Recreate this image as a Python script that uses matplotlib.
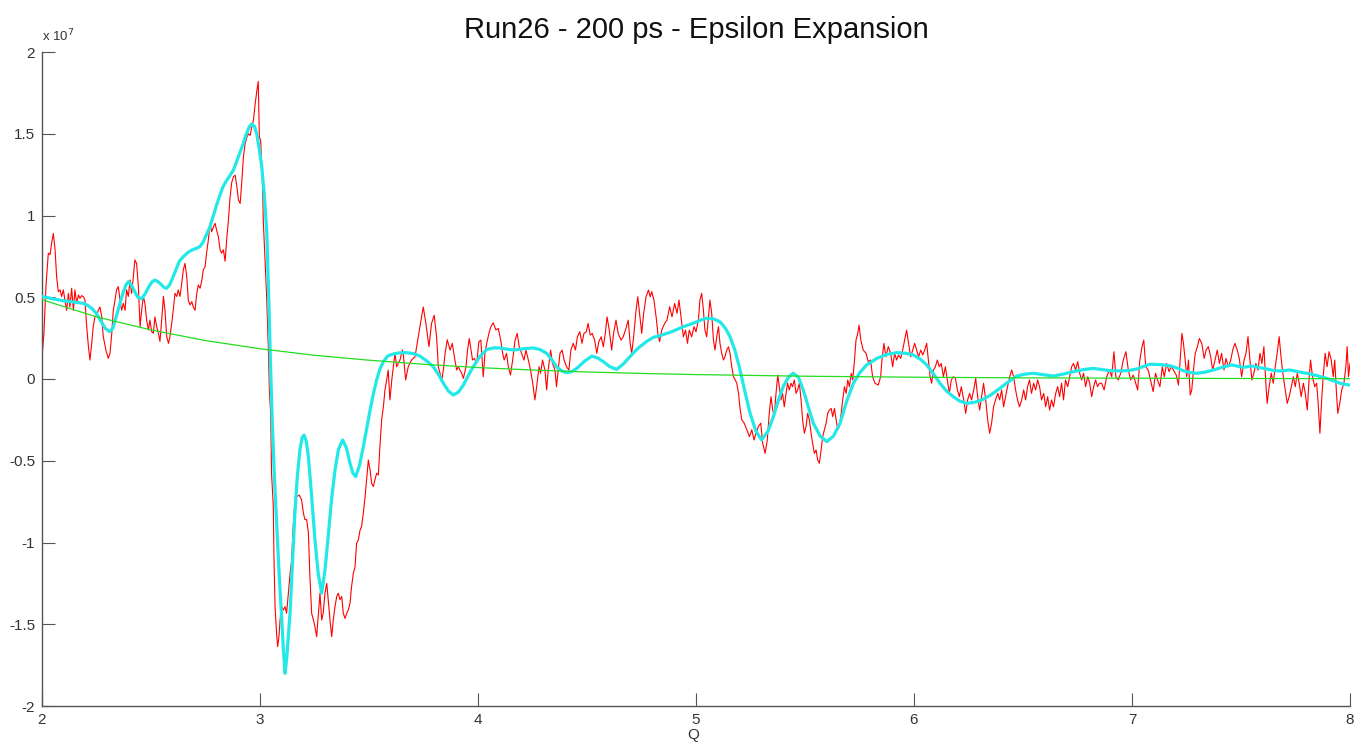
import matplotlib
matplotlib.use("Agg")
import matplotlib.pyplot as plt

plt.rcParams['font.family'] = ['Liberation Sans', 'DejaVu Sans']

# ---------------- data (y values in units of 1e7) ----------------
red_q = [
    2.000, 2.009, 2.018, 2.029, 2.037, 2.044, 2.052, 2.060, 2.067, 2.075, 2.083, 2.090, 2.098, 2.105,
    2.113, 2.121, 2.128, 2.136, 2.144, 2.151, 2.159, 2.167, 2.174, 2.182, 2.190, 2.197, 2.205, 2.213,
    2.220, 2.228, 2.235, 2.243, 2.251, 2.258, 2.266, 2.274, 2.281, 2.293, 2.304, 2.312, 2.320, 2.327,
    2.335, 2.342, 2.350, 2.358, 2.365, 2.373, 2.381, 2.388, 2.396, 2.404, 2.411, 2.419, 2.426, 2.434,
    2.442, 2.450, 2.457, 2.465, 2.472, 2.480, 2.488, 2.495, 2.503, 2.511, 2.518, 2.526, 2.534, 2.541,
    2.549, 2.557, 2.564, 2.572, 2.580, 2.587, 2.595, 2.602, 2.610, 2.618, 2.625, 2.633, 2.641, 2.648,
    2.656, 2.664, 2.671, 2.679, 2.687, 2.694, 2.702, 2.709, 2.717, 2.725, 2.732, 2.740, 2.748, 2.755,
    2.763, 2.771, 2.778, 2.786, 2.794, 2.801, 2.809, 2.817, 2.824, 2.832, 2.840, 2.847, 2.855, 2.862,
    2.870, 2.878, 2.886, 2.894, 2.901, 2.909, 2.917, 2.924, 2.932, 2.940, 2.947, 2.955, 2.962, 2.970,
    2.978, 2.986, 2.992, 2.997, 3.003, 3.008, 3.012, 3.015, 3.023, 3.030, 3.038, 3.043, 3.049, 3.053,
    3.061, 3.064, 3.069, 3.076, 3.081, 3.087, 3.092, 3.099, 3.107, 3.115, 3.122, 3.130, 3.138, 3.145,
    3.153, 3.161, 3.168, 3.180, 3.191, 3.199, 3.206, 3.214, 3.222, 3.229, 3.237, 3.245, 3.252, 3.260,
    3.268, 3.275, 3.283, 3.290, 3.298, 3.306, 3.313, 3.321, 3.329, 3.336, 3.344, 3.352, 3.359, 3.367,
    3.375, 3.382, 3.390, 3.398, 3.405, 3.413, 3.420, 3.428, 3.436, 3.443, 3.451, 3.459, 3.466, 3.474,
    3.482, 3.489, 3.497, 3.505, 3.512, 3.520, 3.527, 3.535, 3.543, 3.550, 3.558, 3.566, 3.573, 3.581,
    3.588, 3.596, 3.605, 3.619, 3.627, 3.642, 3.653, 3.657, 3.668, 3.680, 3.695, 3.711, 3.726, 3.741,
    3.749, 3.761, 3.775, 3.787, 3.799, 3.810, 3.818, 3.834, 3.841,
    3.849, 3.859, 3.872, 3.882, 3.894, 3.902, 3.910, 3.917, 3.925, 3.933, 3.945, 3.952, 3.960, 3.968,
    3.975, 3.983, 3.994, 4.004, 4.013, 4.024, 4.032, 4.040, 4.050, 4.059, 4.070, 4.082, 4.093, 4.104,
    4.113, 4.120, 4.131, 4.139, 4.149, 4.159, 4.170, 4.180, 4.189, 4.200, 4.211, 4.220, 4.231, 4.241,
    4.251, 4.261, 4.269, 4.280, 4.287, 4.296, 4.307, 4.315, 4.322, 4.333, 4.342, 4.353, 4.360, 4.368,
    4.376, 4.386, 4.395, 4.406, 4.417, 4.426, 4.437, 4.447, 4.456, 4.467, 4.477, 4.486, 4.497, 4.505,
    4.515, 4.524, 4.535, 4.545, 4.554, 4.565, 4.575, 4.584, 4.592, 4.602, 4.613, 4.622, 4.633, 4.643,
    4.656, 4.666, 4.679, 4.689, 4.698, 4.705, 4.714, 4.725, 4.733, 4.743, 4.751, 4.760, 4.771, 4.782,
    4.790, 4.797, 4.807, 4.817, 4.825, 4.833, 4.843, 4.856, 4.867, 4.879, 4.890, 4.902, 4.913, 4.922,
    4.931, 4.942, 4.952, 4.961, 4.969, 4.980, 4.991, 5.000, 5.011, 5.018, 5.026, 5.034, 5.041, 5.049,
    5.057, 5.064, 5.072, 5.080, 5.087, 5.095, 5.103, 5.110, 5.118, 5.126, 5.133, 5.141, 5.149, 5.156,
    5.164, 5.172, 5.180, 5.187, 5.195, 5.203, 5.210, 5.221, 5.233, 5.245, 5.256, 5.266, 5.275, 5.286,
    5.297, 5.306, 5.317, 5.327, 5.336, 5.344, 5.352, 5.359, 5.367, 5.375, 5.382, 5.390, 5.397, 5.405,
    5.413, 5.420, 5.428, 5.436, 5.443, 5.451, 5.459, 5.466, 5.474, 5.482, 5.489, 5.497, 5.505, 5.512,
    5.520, 5.528, 5.535, 5.543, 5.551, 5.558, 5.566, 5.574, 5.581, 5.589, 5.597, 5.604, 5.612, 5.620,
    5.627, 5.635, 5.643, 5.650, 5.658, 5.666, 5.673, 5.681, 5.689, 5.696, 5.704, 5.712, 5.719, 5.727,
    5.734, 5.742, 5.748, 5.756,
    5.767, 5.780, 5.790, 5.801, 5.810, 5.821, 5.836, 5.847, 5.853, 5.862, 5.871, 5.882, 5.893, 5.902,
    5.911, 5.920, 5.929, 5.939, 5.948, 5.957, 5.966, 5.975, 5.985, 5.994, 6.003, 6.012, 6.021, 6.031,
    6.040, 6.049, 6.058, 6.066, 6.074, 6.081, 6.089, 6.098, 6.107, 6.116, 6.125, 6.135, 6.144, 6.153,
    6.162, 6.171, 6.181, 6.190, 6.199, 6.208, 6.217, 6.228, 6.237, 6.246, 6.255, 6.264, 6.274, 6.283,
    6.292, 6.301, 6.310, 6.319, 6.329, 6.338, 6.347, 6.356, 6.365, 6.374, 6.384, 6.393, 6.402, 6.411,
    6.420, 6.429, 6.439, 6.448, 6.457, 6.466, 6.475, 6.484, 6.494, 6.503, 6.512, 6.521, 6.530, 6.539,
    6.549, 6.558, 6.567, 6.576, 6.585, 6.595, 6.604, 6.613, 6.622, 6.631, 6.640, 6.650, 6.659, 6.668,
    6.677, 6.686, 6.695, 6.705, 6.714, 6.723, 6.732, 6.741, 6.751, 6.760, 6.769, 6.778, 6.787, 6.797,
    6.806, 6.815, 6.824, 6.833, 6.842, 6.851,
    6.861, 6.872, 6.884, 6.896, 6.907, 6.917, 6.926, 6.937, 6.948, 6.960, 6.972, 6.983, 6.994, 7.006,
    7.017, 7.026, 7.036, 7.046, 7.054, 7.063, 7.074, 7.085, 7.097, 7.108, 7.117, 7.128, 7.139, 7.148,
    7.159, 7.170, 7.179, 7.190, 7.203, 7.213, 7.221, 7.229, 7.236, 7.244, 7.251, 7.259, 7.267, 7.274,
    7.282, 7.290, 7.300, 7.309, 7.320, 7.331, 7.340, 7.350, 7.361, 7.370, 7.381, 7.391, 7.401, 7.411,
    7.422, 7.431, 7.442, 7.453, 7.462, 7.472, 7.483, 7.492, 7.503, 7.514, 7.523, 7.532, 7.541, 7.550,
    7.559, 7.568, 7.578, 7.587, 7.596, 7.605, 7.614, 7.620, 7.629, 7.639, 7.648, 7.657, 7.666, 7.675,
    7.685, 7.694, 7.703, 7.712, 7.721, 7.731, 7.740, 7.749, 7.758, 7.767, 7.776, 7.786, 7.795, 7.804,
    7.813, 7.819, 7.828, 7.838, 7.847, 7.854, 7.862, 7.870, 7.877, 7.886, 7.895, 7.904, 7.914, 7.923,
    7.930, 7.938, 7.944, 7.953, 7.962, 7.972, 7.981, 7.987, 7.993, 8.000,
]
red_val = [
    0.136, 0.28, 0.565, 0.77, 0.76, 0.83, 0.89, 0.79, 0.626, 0.534, 0.545, 0.505, 0.545, 0.483,
    0.42, 0.524, 0.44, 0.555, 0.42, 0.545, 0.463, 0.514, 0.493, 0.51, 0.503, 0.483, 0.32, 0.197,
    0.116, 0.218, 0.32, 0.38, 0.39, 0.42, 0.44, 0.38, 0.26, 0.177, 0.126, 0.157, 0.28, 0.42,
    0.483, 0.545, 0.565, 0.483, 0.42, 0.463, 0.42, 0.545, 0.505, 0.606, 0.524, 0.626, 0.728, 0.707,
    0.565, 0.32, 0.42, 0.505, 0.463, 0.36, 0.30, 0.36, 0.29, 0.28, 0.38, 0.32, 0.28, 0.23,
    0.36, 0.505, 0.42, 0.26, 0.218, 0.26, 0.34, 0.42, 0.524, 0.505, 0.545, 0.505, 0.585, 0.667,
    0.707, 0.626, 0.483, 0.453, 0.473, 0.44, 0.42, 0.514, 0.575, 0.555, 0.595, 0.667, 0.687, 0.77,
    0.85, 0.952, 0.90, 0.93, 0.952, 0.91, 0.87, 0.79, 0.77, 0.79, 0.72, 0.85, 0.97, 1.10,
    1.20, 1.237, 1.247, 1.176, 1.095, 1.074, 1.217, 1.36, 1.44, 1.48, 1.50, 1.49, 1.54, 1.585,
    1.685, 1.767, 1.82, 1.48, 1.46, 1.30, 1.176, 0.97, 0.727, 0.52, 0.198, -0.07, -0.21, -0.577,
    -0.78, -1.087, -1.392, -1.556, -1.637, -1.576, -1.474, -1.392, -1.413, -1.392, -1.433, -1.31, -1.19, -1.107,
    -0.883, -0.74, -0.72, -0.71, -0.74, -0.82, -0.86, -0.86, -0.94, -1.21, -1.433, -1.474, -1.515, -1.576,
    -1.433, -1.31, -1.474, -1.433, -1.31, -1.25, -1.35, -1.474, -1.576, -1.474, -1.392, -1.33, -1.31, -1.35,
    -1.33, -1.433, -1.464, -1.433, -1.413, -1.372, -1.27, -1.19, -1.148, -1.005, -0.985, -0.924, -0.903, -0.82,
    -0.72, -0.618, -0.496, -0.557, -0.638, -0.658, -0.618, -0.577, -0.587, -0.414, -0.25, -0.17, -0.07, -0.006,
    0.055, -0.128, 0.0, 0.157, 0.075, 0.116, 0.177, 0.157, -0.006, 0.075, 0.116, 0.136, 0.258, 0.38,
    0.44, 0.34, 0.198, 0.34, 0.39, 0.258, 0.074, -0.006, 0.055,
    0.157, 0.24, 0.177, 0.218, 0.116, 0.055, 0.075, 0.055, 0.035, 0.004, 0.075, 0.177, 0.248, 0.177,
    0.116, 0.126, 0.095, 0.228, 0.238, 0.014, 0.157, 0.218, 0.279, 0.32, 0.344, 0.30, 0.31, 0.238,
    0.157, 0.116, 0.157, 0.075, 0.024, 0.116, 0.238, 0.279, 0.197, 0.157, 0.116, 0.177, 0.116, 0.055,
    -0.026, -0.128, -0.047, 0.075, 0.035, 0.116, 0.055, -0.067, 0.055, 0.177, 0.095, 0.055, -0.047, 0.055,
    0.157, 0.177, 0.116, 0.075, 0.055, 0.177, 0.218, 0.177, 0.258, 0.289, 0.218, 0.279, 0.289, 0.34,
    0.269, 0.279, 0.238, 0.157, 0.228, 0.258, 0.197, 0.279, 0.38, 0.30, 0.177, 0.279, 0.36, 0.279,
    0.238, 0.258, 0.31, 0.36, 0.218, 0.157, 0.258, 0.42, 0.503, 0.38, 0.279, 0.402, 0.503, 0.544,
    0.503, 0.534, 0.483, 0.38, 0.279, 0.228, 0.30, 0.34, 0.36, 0.442, 0.38, 0.462, 0.402, 0.483,
    0.381, 0.258, 0.299, 0.218, 0.299, 0.258, 0.32, 0.289, 0.36, 0.483, 0.524, 0.42, 0.299, 0.258,
    0.381, 0.483, 0.401, 0.238, 0.177, 0.258, 0.32, 0.218, 0.157, 0.116, 0.136, 0.177, 0.197, 0.157,
    0.075, 0.014, -0.006, -0.026, -0.088, -0.19, -0.25, -0.27, -0.31, -0.353, -0.31, -0.373, -0.332, -0.291,
    -0.27, -0.393, -0.455, -0.373, -0.21, -0.108, -0.19, -0.23, -0.088, 0.024, -0.047, -0.128, -0.088, -0.17,
    -0.088, -0.026, -0.067, -0.026, -0.047, -0.006, -0.088, -0.067, -0.026, -0.128, -0.25, -0.332, -0.291, -0.21,
    -0.25, -0.332, -0.393, -0.455, -0.434, -0.495, -0.515, -0.434, -0.353, -0.31, -0.27, -0.21, -0.19, -0.18,
    -0.23, -0.18, -0.25, -0.31, -0.291, -0.21, -0.128, -0.047, -0.088, -0.006, -0.047, 0.035, -0.006, 0.116,
    0.238, 0.279, 0.33, 0.238,
    0.177, 0.157, 0.106, 0.116, 0.014, -0.026, -0.037, 0.014, 0.116, 0.218, 0.136, 0.198, 0.157, 0.075,
    0.157, 0.116, 0.147, 0.126, 0.177, 0.238, 0.299, 0.218, 0.136, 0.177, 0.218, 0.177, 0.136, 0.177,
    0.147, 0.177, 0.218, 0.116, 0.014, -0.026, 0.055, 0.075, 0.116, 0.075, 0.095, 0.014, 0.075, -0.006,
    -0.088, -0.006, 0.014, 0.004, -0.067, -0.108, -0.047, -0.128, -0.21, -0.128, -0.088, -0.128, -0.067, 0.004,
    -0.108, -0.19, -0.108, -0.026, -0.128, -0.25, -0.332, -0.27, -0.17, -0.128, -0.088, -0.128, -0.067, -0.17,
    -0.108, -0.047, 0.014, 0.055, 0.014, -0.067, -0.128, -0.17, -0.128, -0.067, -0.128, -0.047, -0.006, -0.088,
    -0.026, -0.067, -0.006, -0.047, -0.128, -0.088, -0.17, -0.108, -0.19, -0.128, -0.17, -0.088, -0.047, -0.108,
    -0.026, -0.128, -0.006, -0.047, 0.014, 0.075, 0.095, 0.055, 0.106, 0.035, -0.006, 0.035, -0.047, 0.014,
    -0.026, -0.108, -0.047, -0.006, -0.047, -0.026,
    -0.026, -0.067, 0.014, 0.055, 0.014, 0.167, 0.014, -0.006, 0.035, 0.116, 0.167, 0.055, -0.006, 0.024,
    -0.026, -0.067, 0.116, 0.198, 0.238, 0.075, 0.055, -0.006, -0.077, 0.035, -0.006, -0.047, 0.075, 0.014,
    0.095, 0.045, 0.075, 0.055, 0.024, -0.037, 0.116, 0.279, 0.218, 0.116, 0.014, 0.116, -0.098, -0.067,
    0.055, 0.157, 0.198, 0.248, 0.218, 0.126, 0.177, 0.198, 0.136, 0.055, 0.116, 0.177, 0.095, 0.157,
    0.055, 0.126, 0.075, 0.116, 0.177, 0.218, 0.177, 0.126, 0.014, 0.116, 0.157, 0.259, 0.116, -0.006,
    0.035, 0.095, 0.055, 0.157, 0.095, 0.198, -0.026, -0.149, -0.047, 0.035, -0.026, 0.075, 0.157, 0.259,
    0.116, 0.014, -0.067, -0.149, -0.108, -0.047, 0.014, -0.047, 0.035, -0.026, -0.108, -0.026, -0.088, -0.19,
    0.014, 0.116, 0.014, -0.047, -0.026, -0.149, -0.332, -0.128, 0.014, 0.157, 0.075, 0.167, 0.116, 0.014,
    0.116, -0.088, -0.21, -0.149, -0.067, -0.026, 0.075, 0.198, 0.014, 0.095,
]

cyan_q = [
    2.000, 2.050, 2.100, 2.150, 2.190, 2.210, 2.230, 2.250, 2.270, 2.290, 2.310, 2.325, 2.340, 2.355,
    2.370, 2.385, 2.396, 2.410, 2.425, 2.440, 2.457, 2.475, 2.490, 2.505, 2.518, 2.532, 2.545, 2.560,
    2.571, 2.585, 2.600, 2.615, 2.630, 2.648, 2.670, 2.690, 2.710, 2.725, 2.740, 2.755, 2.770, 2.785,
    2.800, 2.815, 2.830, 2.845, 2.860, 2.878, 2.890, 2.905, 2.923, 2.935, 2.950, 2.962, 2.975, 2.985,
    2.995, 3.008, 3.020, 3.031, 3.040, 3.048, 3.056, 3.066, 3.077, 3.088, 3.099, 3.107, 3.115, 3.123,
    3.130, 3.138, 3.149, 3.160, 3.171, 3.183, 3.193, 3.202, 3.212, 3.222, 3.237, 3.252, 3.267, 3.283,
    3.298, 3.313, 3.328, 3.344, 3.360, 3.379, 3.396, 3.413, 3.426, 3.439, 3.456, 3.474, 3.490, 3.505,
    3.520, 3.535, 3.550, 3.566, 3.585, 3.611, 3.640, 3.673, 3.705, 3.734, 3.765, 3.795, 3.820, 3.841,
    3.865, 3.887, 3.910, 3.933, 3.955, 3.978, 4.010, 4.040, 4.070, 4.100, 4.130, 4.162, 4.210, 4.254,
    4.285, 4.315, 4.340, 4.360, 4.385, 4.407, 4.430, 4.453, 4.490, 4.522, 4.550, 4.575, 4.605, 4.636,
    4.665, 4.697, 4.720, 4.743, 4.774, 4.805, 4.835, 4.890, 4.942, 4.995, 5.030, 5.049, 5.080, 5.110,
    5.135, 5.156, 5.180, 5.202, 5.225, 5.248, 5.275, 5.301, 5.330, 5.355, 5.378, 5.400, 5.423, 5.446,
    5.470, 5.492, 5.515, 5.538, 5.570, 5.600, 5.630, 5.661, 5.690, 5.722, 5.752, 5.783, 5.829, 5.875,
    5.921, 5.960, 5.997, 6.030, 6.058, 6.090, 6.119, 6.150, 6.180, 6.210, 6.242, 6.280, 6.318, 6.355,
    6.394, 6.430, 6.471, 6.510, 6.547, 6.590, 6.639, 6.685, 6.731, 6.780, 6.822, 6.860, 6.899, 6.945,
    6.985, 7.022, 7.055, 7.083, 7.130, 7.174, 7.205, 7.235, 7.265, 7.297, 7.335, 7.373, 7.415, 7.457,
    7.485, 7.511, 7.549, 7.585, 7.618, 7.650, 7.679, 7.725, 7.760, 7.801, 7.850, 7.893, 7.925, 7.954,
    7.980, 8.000,
]
cyan_val = [
    0.505, 0.49, 0.478, 0.47, 0.463, 0.45, 0.43, 0.40, 0.355, 0.31, 0.29, 0.31, 0.38, 0.45,
    0.52, 0.575, 0.595, 0.575, 0.535, 0.50, 0.49, 0.525, 0.565, 0.595, 0.605, 0.595, 0.58, 0.56,
    0.555, 0.575, 0.62, 0.67, 0.72, 0.748, 0.775, 0.79, 0.80, 0.81, 0.84, 0.885, 0.93, 0.995,
    1.06, 1.12, 1.176, 1.21, 1.24, 1.278, 1.32, 1.375, 1.44, 1.49, 1.54, 1.56, 1.545, 1.50,
    1.42, 1.30, 1.12, 0.90, 0.50, 0.10, -0.25, -0.60, -0.90, -1.20, -1.45, -1.65, -1.80, -1.70,
    -1.57, -1.43, -1.12, -0.82, -0.60, -0.434, -0.36, -0.343, -0.38, -0.475, -0.72, -0.985, -1.19, -1.31,
    -1.17, -0.96, -0.74, -0.557, -0.43, -0.373, -0.42, -0.516, -0.575, -0.597, -0.53, -0.414, -0.30, -0.19,
    -0.09, -0.006, 0.06, 0.106, 0.14, 0.153, 0.16, 0.161, 0.155, 0.14, 0.11, 0.075, 0.025, -0.026,
    -0.075, -0.098, -0.08, -0.037, 0.02, 0.075, 0.14, 0.18, 0.19, 0.19, 0.183, 0.177, 0.185, 0.19,
    0.18, 0.157, 0.115, 0.075, 0.048, 0.039, 0.045, 0.065, 0.11, 0.14, 0.128, 0.106, 0.075, 0.059,
    0.09, 0.136, 0.17, 0.198, 0.23, 0.255, 0.265, 0.29, 0.32, 0.345, 0.365, 0.371, 0.368, 0.35,
    0.31, 0.259, 0.17, 0.055, -0.08, -0.21, -0.32, -0.373, -0.32, -0.23, -0.13, -0.047, 0.01, 0.035,
    0.01, -0.067, -0.17, -0.27, -0.35, -0.383, -0.35, -0.27, -0.14, -0.026, 0.04, 0.086, 0.126, 0.15,
    0.161, 0.158, 0.147, 0.12, 0.086, 0.03, -0.026, -0.075, -0.108, -0.135, -0.149, -0.142, -0.124, -0.095,
    -0.057, -0.02, 0.018, 0.03, 0.035, 0.027, 0.018, 0.03, 0.045, 0.058, 0.065, 0.058, 0.051, 0.049,
    0.052, 0.061, 0.078, 0.09, 0.088, 0.081, 0.068, 0.051, 0.04, 0.035, 0.042, 0.055, 0.072, 0.086,
    0.078, 0.071, 0.08, 0.07, 0.061, 0.052, 0.049, 0.055, 0.045, 0.035, 0.02, 0.004, -0.012, -0.026,
    -0.033, -0.037,
]

green_q = [2.0, 2.25, 2.5, 2.75, 3.0, 3.25, 3.5, 3.75, 4.0, 4.25, 4.5, 4.75, 5.0, 5.5, 6.0, 6.5, 7.0, 7.5, 8.0]
green_val = [0.485, 0.38, 0.30, 0.235, 0.185, 0.145, 0.115, 0.09, 0.07, 0.055, 0.043, 0.034, 0.027,
             0.017, 0.011, 0.007, 0.005, 0.003, 0.002]

x_ticks = [2, 3, 4, 5, 6, 7, 8]
y_ticks = [-2, -1.5, -1, -0.5, 0, 0.5, 1, 1.5, 2]
y_tick_labels = ["-2", "-1.5", "-1", "-0.5", "0", "0.5", "1", "1.5", "2"]

title_text = "Run26 - 200 ps - Epsilon Expansion"
x_label = "Q"

# ---------------- figure ----------------
W, H = 1362, 743
fig = plt.figure(figsize=(W / 100, H / 100), dpi=100)
ax = fig.add_axes([42 / W, 37 / H, 1308 / W, 654 / H])

ax.plot(red_q, red_val, color='#ff0000', lw=0.8, zorder=2)
ax.plot(cyan_q, cyan_val, color='#22e8e8', lw=2.3, zorder=3,
        solid_joinstyle='round', solid_capstyle='round')
ax.plot(green_q, green_val, color='#22dd22', lw=0.9, zorder=4)

ax.set_xlim(2, 8)
ax.set_ylim(-2, 2)
ax.set_xticks(x_ticks)
ax.set_xticklabels([str(t) for t in x_ticks])
ax.set_yticks(y_ticks)
ax.set_yticklabels(y_tick_labels)

for s in ['top', 'right']:
    ax.spines[s].set_visible(False)
for s in ['left', 'bottom']:
    ax.spines[s].set_color('#555555')
    ax.spines[s].set_linewidth(1.0)

ax.tick_params(direction='in', length=9.5, width=0.8, color='#555555',
               labelcolor='#333333', labelsize=11)
ax.tick_params(axis='y', pad=5)
ax.tick_params(axis='x', pad=5)

ax.set_title(title_text, fontsize=21, color='#111111', pad=10)
ax.text(0.0, 1.012, r"x 10$^{7}$", transform=ax.transAxes, ha='left', va='bottom',
        fontsize=9.5, color='#333333')
fig.text(693 / W, 1.5 / H, x_label, ha='center', va='bottom', fontsize=11, color='#333333')

fig.savefig("out.png", dpi=100)
